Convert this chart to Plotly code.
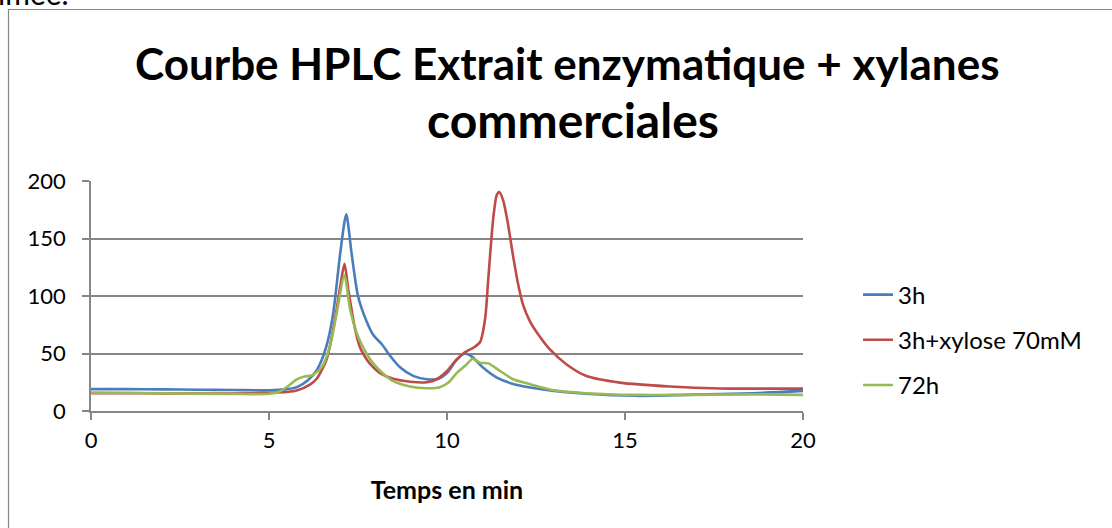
import plotly.graph_objects as go

# --- data ---
t_3h = [0, 1, 2, 3, 4, 5, 5.5, 5.8, 6.1, 6.35, 6.6, 6.8, 7.0, 7.17, 7.32, 7.5, 7.74, 7.93,
        8.17, 8.4, 8.68, 9.05, 9.43, 9.76, 10.0, 10.27, 10.5, 10.69, 11.02, 11.4, 11.86,
        12.33, 13.0, 13.9, 15.3, 16.7, 18.6, 20]
v_3h = [19, 19, 18.8, 18.5, 18.2, 18, 19, 21, 27, 36, 55, 84, 137, 171, 137, 100, 78, 66,
        58, 48, 38, 30.5, 27.6, 28, 33, 44.5, 50, 47.5, 37.5, 29, 23.5,
        20.5, 17.5, 15, 13.2, 14, 15.5, 17.5]

t_xyl = [0, 1, 2, 3, 4, 5, 5.5, 5.8, 6.15, 6.34, 6.62, 6.85, 7.0, 7.12, 7.23, 7.42, 7.56,
         7.7, 7.84, 8.12, 8.49, 8.96, 9.43, 9.71, 10.0, 10.27, 10.5, 10.74, 10.93, 11.07,
         11.16, 11.3, 11.4, 11.47, 11.58, 11.7, 11.86, 12.0, 12.14, 12.33, 12.6, 12.89,
         13.36, 13.92, 14.86, 16.26, 17.67, 20]
v_xyl = [15.5, 15.5, 15.3, 15.2, 15.2, 15.8, 16.5, 18, 23, 28, 45, 79, 108, 128, 105, 71, 55,
         47, 41, 33, 28, 25.5, 25, 27.6, 34.8, 44.8, 51, 55, 60, 80,
         115, 168, 188, 190.5, 183, 165, 134, 110, 92, 78, 65, 53.5,
         40.5, 30.4, 24.7, 21.3, 19.6, 19.5]

t_72h = [0, 1, 2, 3, 4, 5, 5.3, 5.55, 5.78, 6.0, 6.2, 6.48, 6.71, 6.9, 7.12, 7.28, 7.46,
         7.6, 7.74, 7.84, 8.12, 8.49, 8.96, 9.43, 9.8, 10.04, 10.27, 10.55, 10.72, 10.93,
         11.16, 11.49, 11.86, 12.33, 13.0, 13.9, 15.3, 16.7, 18.6, 20]
v_72h = [16, 15.8, 15.5, 15, 14.8, 15, 17, 22, 27.5, 30, 31, 38, 56, 85, 118, 88, 68,
         58, 50, 45, 35, 26, 21.3, 19.8, 20.7, 24.7, 33, 40.5, 45.5, 42,
         41.4, 34.8, 27.6, 23.3, 18, 15.5, 14, 14, 14.5, 14]

series_names = ["3h", "3h+xylose 70mM", "72h"]
series_colors = ["#4A7EBB", "#BE4B48", "#98B954"]
x_ticks = [0, 5, 10, 15, 20]
y_ticks = [0, 50, 100, 150, 200]
title_lines = ["Courbe HPLC Extrait enzymatique + xylanes", "commerciales"]
x_title = "Temps en min"

FONT = "Lato"
W, H = 1112, 528
L, R, T, B = 91, 309, 181, 117
PW, PH = W - L - R, H - T - B


def px_x(p):
    return (p - L) / PW


def px_y(p):
    return (H - B - p) / PH


fig = go.Figure()
for i, (tx, vy) in enumerate([(t_3h, v_3h), (t_xyl, v_xyl), (t_72h, v_72h)]):
    fig.add_trace(go.Scatter(
        x=tx, y=vy, mode="lines", name=series_names[i],
        legendgroup=series_names[i],
        line=dict(color=series_colors[i], width=2.6, shape="spline", smoothing=0.7),
    ))

fig.update_layout(
    width=W, height=H,
    margin=dict(l=L, r=R, t=T, b=B),
    paper_bgcolor="white", plot_bgcolor="white",
    font=dict(family=FONT, color="black", size=22),
    showlegend=True,
    legend=dict(x=px_x(858), y=px_y(340), xanchor="left", yanchor="middle",
                font=dict(family=FONT, size=24, color="black"),
                tracegroupgap=11, bgcolor="rgba(0,0,0,0)"),
)

fig.update_xaxes(range=[0, 20], tickvals=x_ticks, showgrid=False, zeroline=False,
                 showline=True, linecolor="#868686", linewidth=1.5,
                 ticks="outside", ticklen=7, tickcolor="#868686", tickwidth=1.5,
                 tickfont=dict(family=FONT, size=22), ticklabelstandoff=2,
                 title=dict(text="<b>" + x_title + "</b>", font=dict(family=FONT, size=25),
                            standoff=29))
fig.update_yaxes(range=[0, 200], tickvals=y_ticks, showgrid=True, gridcolor="#868686",
                 gridwidth=1.5, zeroline=False,
                 showline=True, linecolor="#868686", linewidth=1.5,
                 ticks="outside", ticklen=7, tickcolor="#868686", tickwidth=1.5,
                 tickfont=dict(family=FONT, size=22), ticklabelstandoff=12)

# title lines
fig.add_annotation(text="<b>" + title_lines[0] + "</b>", xref="paper", yref="paper",
                   x=px_x(567), y=px_y(63), xanchor="center", yanchor="middle",
                   showarrow=False, font=dict(family=FONT, size=44, color="black"))
fig.add_annotation(text="<b>" + title_lines[1] + "</b>", xref="paper", yref="paper",
                   x=px_x(573), y=px_y(119), xanchor="center", yanchor="middle",
                   showarrow=False, font=dict(family=FONT, size=48, color="black"))

# fragment of document text above the chart (cut off at the top, as in the reference)
fig.add_annotation(text="imée.", xref="paper", yref="paper",
                   x=px_x(-4), y=px_y(13), xanchor="left", yanchor="bottom",
                   showarrow=False, font=dict(family=FONT, size=30, color="black"))

# chart frame
fig.add_shape(type="rect", xref="paper", yref="paper",
              x0=px_x(8.5), y0=px_y(560), x1=px_x(1140), y1=px_y(9.5),
              line=dict(color="#868686", width=1.2), fillcolor="rgba(0,0,0,0)", layer="below")

fig.write_html("out.html", config={"displayModeBar": False},
               post_script="document.body.style.margin='0';")
